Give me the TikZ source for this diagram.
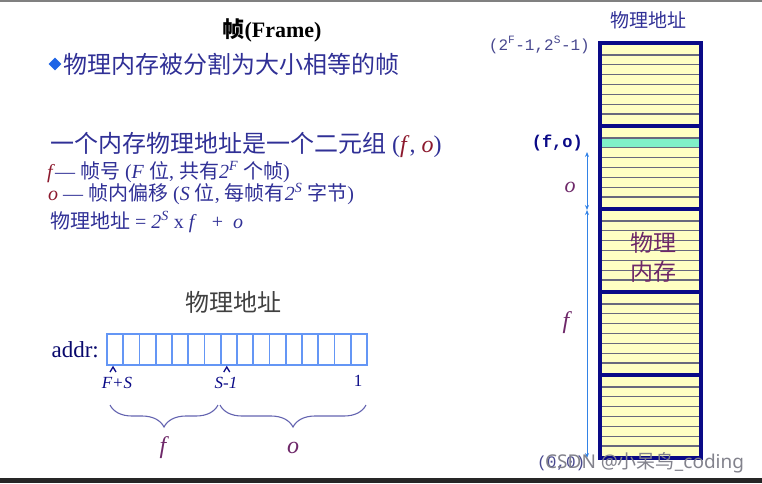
\documentclass[tikz,border=0pt]{standalone}
\usepackage{fontspec}
\setmainfont{Liberation Serif}
\setmonofont{Liberation Mono}
\newfontfamily\cjk{Noto Sans CJK SC}
\newfontfamily\wmfont{Noto Sans}
\usepackage{tikz}
\usetikzlibrary{arrows.meta,calc,positioning,shapes.geometric,decorations.pathreplacing}

\definecolor{bleutexte}{RGB}{48,48,150}
\definecolor{rougef}{RGB}{140,25,45}
\definecolor{violet}{RGB}{110,40,105}
\definecolor{bleupuce}{RGB}{30,100,230}
\definecolor{bleureg}{RGB}{100,150,245}
\definecolor{marine}{RGB}{10,10,135}
\definecolor{jaune}{RGB}{255,255,195}
\definecolor{grisligne}{RGB}{105,105,125}
\definecolor{vertcase}{RGB}{128,240,200}
\definecolor{bleufleche}{RGB}{50,130,230}
\definecolor{grisfiligrane}{RGB}{130,130,140}

\newcommand{\zh}[1]{{\cjk #1}}
\newcommand{\taille}[1]{\fontsize{#1}{#1}\selectfont}

\begin{document}
\begin{tikzpicture}[x=1pt, y=-1pt,
		texte/.style={inner sep=0pt, text=bleutexte, anchor=west},
		case/.style={draw=bleureg, line width=1.7pt, minimum width=16.25pt, minimum height=31pt, inner sep=0pt, outer sep=0pt},
		cadre/.style={fill=jaune, minimum width=101pt, minimum height=83pt, inner sep=0pt, outer sep=0pt},
		bord/.style={draw=marine, line width=4pt},
		bande/.style={draw=grisligne, line width=1.4pt},
		mesure/.style={draw=bleufleche, line width=1pt, {Stealth[length=5pt,width=4pt]}-{Stealth[length=5pt,width=4pt]}},
		accolade/.style={draw=bleutexte!75, line width=1.1pt, decorate, decoration={brace, mirror, amplitude=22pt}},
		chapeau/.style={draw=marine, line width=1.3pt},
		]
		
		\useasboundingbox (0,0) rectangle (762,483);
		% Bords de la capture
		\draw[gray, line width=1.5pt] (0,0.75) -- (762,0.75);
		\fill[black!85] (0,478) rectangle (762,483);
		
		% Le texte
		\node[inner sep=0pt, font=\bfseries\taille{22}] (titre) at (272,30) {\zh{帧}(Frame)};
		\node[diamond, fill=bleupuce, minimum size=13pt, inner sep=0pt] (puce) at (55,64) {};
		\node[texte, font=\taille{24}, right=2pt of puce] (decoupe) {\zh{物理内存被分割为大小相等的帧}};
		\node[texte, font=\taille{24}] (tuple) at (50,145) {\zh{一个内存物理地址是一个二元组} (\textcolor{rougef}{\textit{f}}, \textcolor{rougef}{\textit{o}})};
		\node[texte, font=\taille{20}] (ligf) at (47,172) {\textcolor{rougef}{\textit{f}}— \zh{帧号} (\textit{F} \zh{位}, \zh{共有}\textit{2\textsuperscript{F}} \zh{个帧})};
		\node[texte, font=\taille{20}] (ligo) at (48,194) {\textcolor{rougef}{\textit{o}} — \zh{帧内偏移} (\textit{S} \zh{位}, \zh{每帧有}\textit{2\textsuperscript{S}} \zh{字节})};
		\node[texte, font=\taille{20}] (calcul) at (50,222) {\zh{物理地址} = \textit{2\textsuperscript{S}} x \textit{f} \ \ + \ \textit{o}};
		
		% Le registre d'adresse
		\node[inner sep=0pt, font=\taille{24}, text=black!75] (titreaddr) at (233,302) {\zh{物理地址}};
		\node[texte, font=\taille{23}, text=marine!80!black, anchor=east] (addr) at (99,350) {addr:};
		\foreach \i in {1,...,16}
			\node[case] (c\i) at ({107+16.25*(\i-0.5)},349.5) {};
		\draw[chapeau] ($(c1.south west)+(3,7)$) -- ($(c1.south west)+(6,2)$) -- ($(c1.south west)+(9,7)$);
		\draw[chapeau] ($(c8.south west)+(3,7)$) -- ($(c8.south west)+(6,2)$) -- ($(c8.south west)+(9,7)$);
		\node[texte, anchor=center, font=\itshape\taille{17}, text=marine] (fs) at (117,383) {F+S};
		\node[texte, anchor=center, font=\itshape\taille{17}, text=marine] (sm) at (226,383) {S-1};
		\node[texte, anchor=center, font=\taille{17}, text=marine] (un) at (358,381) {1};
		
		% Les accolades
		\coordinate (af1) at (110,405);
		\coordinate (af2) at (218,405);
		\coordinate (ao1) at (220,405);
		\coordinate (ao2) at (366,405);
		\draw[accolade] (af1) -- (af2);
		\draw[accolade] (ao1) -- (ao2);
		\node[font=\itshape\taille{24}, text=violet] (lf) at (163,448) {f};
		\node[font=\itshape\taille{24}, text=violet] (lo) at (293,448) {o};
		
		% La memoire physique
		\node[inner sep=0pt, font=\taille{19}, text=bleutexte] (titremem) at (648,20) {\zh{物理地址}};
		\foreach \k in {0,...,4}
			\node[cadre] (m\k) at (650.5,{84.5+83*\k}) {};
		\fill[vertcase] ($(m1.north west)+(2,12.5)$) rectangle ($(m1.north west)+(99,22)$);
		\foreach \k in {0,...,4}
			\foreach \j in {1,...,7}
				\draw[bande] ($(m\k.north west)+(2,{2+9.875*\j})$) -- ($(m\k.north east)+(-2,{2+9.875*\j})$);
		\foreach \k in {0,...,4}
			\draw[bord] (m\k.north west) rectangle (m\k.south east);
		\node[font=\fontsize{23}{29}\selectfont, text=violet, align=center] (physique) at (653,257) {\zh{物理}\\\zh{内存}};
		
		% Les reperes
		\node[texte, anchor=east, font=\ttfamily\taille{16}, text=bleutexte!70!gray] (haut) at (590,45) {(2\textsuperscript{F}-1,2\textsuperscript{S}-1)};
		\node[texte, anchor=east, font=\ttfamily\bfseries\taille{17}, text=marine] (fo) at (583,143) {(f,o)};
		\node[texte, font=\ttfamily\taille{16}, text=bleutexte!70!gray] (origine) at (537,463) {(0,0)};
		\coordinate (pointo) at (587,152);
		\coordinate (limite) at (587,210);
		\coordinate (fond) at (587,458);
		\draw[mesure] (pointo) -- (limite);
		\draw[mesure] (limite) -- (fond);
		\node[font=\itshape\taille{22}, text=violet] (lo2) at (570,187) {o};
		\node[font=\itshape\taille{24}, text=violet] (lf2) at (566,323) {f};
		
		% Filigrane
		\node[texte, font=\wmfont\taille{19}, text=grisfiligrane] (filigrane) at (545,463) {CSDN @\zh{小呆鸟}\_coding};
	\end{tikzpicture}
\end{document}
